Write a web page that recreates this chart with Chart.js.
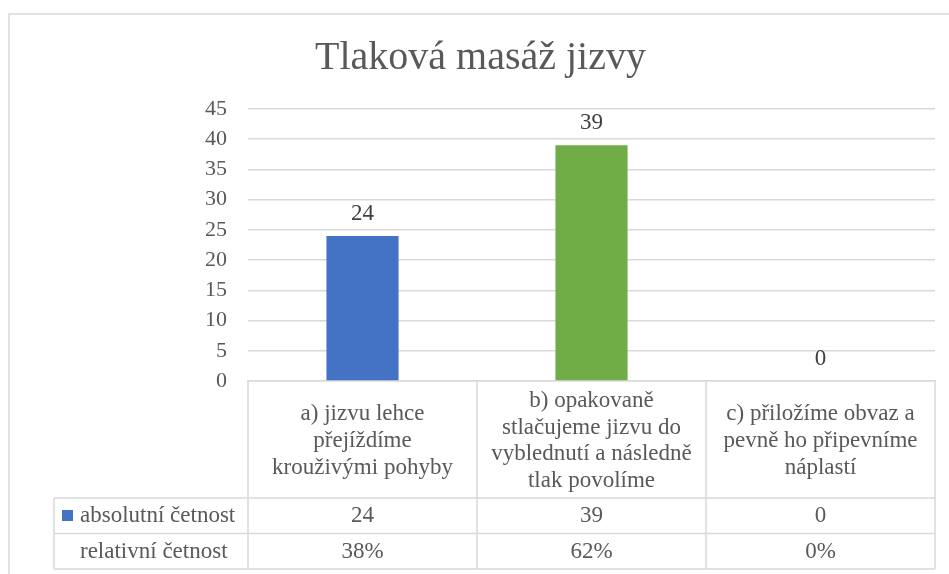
<!DOCTYPE html>
<html><head><meta charset="utf-8">
<script src="https://cdn.jsdelivr.net/npm/chart.js@4"></script>
<style>html,body{margin:0;padding:0;background:#fff;overflow:hidden}</style>
</head><body>
<canvas id="c" width="949" height="574"></canvas>
<script>
const chartTitle = "Tlaková masáž jizvy";
const categories = [
  ["a) jizvu lehce", "přejíždíme", "krouživými pohyby"],
  ["b) opakovaně", "stlačujeme jizvu do", "vyblednutí a následně", "tlak povolíme"],
  ["c) přiložíme obvaz a", "pevně ho připevníme", "náplastí"]
];
const seriesNames = ["absolutní četnost", "relativní četnost"];
const absoluteValues = [24, 39, 0];
const relativeValues = [38, 62, 0];
const barColors = ["#4472C4", "#70AD47", "#A5A5A5"];
const yMin = 0, yMax = 45, yStep = 5;

const FONT = '"Liberation Serif", serif';
const TEXT = '#595959';
const LINE = '#d9d9d9';

const frame = {
  id: 'frame',
  beforeDraw(chart) {
    const ctx = chart.ctx;
    ctx.save();
    ctx.fillStyle = '#fff';
    ctx.fillRect(0, 0, chart.width, chart.height);
    ctx.strokeStyle = LINE;
    ctx.lineWidth = 1.5;
    ctx.strokeRect(9, 14, chart.width + 20, chart.height + 20);
    ctx.restore();
  }
};

const valueLabels = {
  id: 'valueLabels',
  afterDatasetsDraw(chart) {
    const ctx = chart.ctx;
    const meta = chart.getDatasetMeta(0);
    ctx.save();
    ctx.font = '23px ' + FONT;
    ctx.fillStyle = '#404040';
    ctx.textAlign = 'center';
    ctx.textBaseline = 'alphabetic';
    meta.data.forEach((bar, i) => {
      ctx.fillText(String(absoluteValues[i]), bar.x, bar.y - 16);
    });
    ctx.restore();
  }
};

const dataTable = {
  id: 'dataTable',
  afterDraw(chart) {
    const ctx = chart.ctx;
    const xs = chart.scales.x;
    const n = categories.length;
    const left = xs.left, right = xs.right;
    const colW = (right - left) / n;
    const top = chart.chartArea.bottom;
    const headerH = 117;
    const rowH = 35.5;
    const legendLeft = 54;
    const r1 = top + headerH, r2 = r1 + rowH, r3 = r2 + rowH;

    ctx.save();
    ctx.strokeStyle = LINE;
    ctx.lineWidth = 1.5;
    ctx.beginPath();
    ctx.moveTo(legendLeft, r1); ctx.lineTo(right, r1);
    ctx.moveTo(legendLeft, r2); ctx.lineTo(right, r2);
    ctx.moveTo(legendLeft, r3); ctx.lineTo(right, r3);
    for (let i = 0; i <= n; i++) {
      const x = left + i * colW;
      ctx.moveTo(x, top); ctx.lineTo(x, r3);
    }
    ctx.moveTo(legendLeft, r1); ctx.lineTo(legendLeft, r3);
    ctx.stroke();

    ctx.font = '23px ' + FONT;
    ctx.fillStyle = TEXT;
    ctx.textAlign = 'center';
    ctx.textBaseline = 'alphabetic';
    const lh = 26.7;
    const mid = top + 66;
    categories.forEach((lines, i) => {
      const cx = xs.getPixelForValue(i);
      lines.forEach((t, k) => {
        ctx.fillText(t, cx, mid + (k - (lines.length - 1) / 2) * lh);
      });
      ctx.fillText(String(absoluteValues[i]), cx, r1 + 24);
      ctx.fillText(relativeValues[i] + '%', cx, r2 + 24);
    });

    ctx.textAlign = 'left';
    ctx.fillText(seriesNames[0], 80, r1 + 24);
    ctx.fillText(seriesNames[1], 80, r2 + 24);
    ctx.fillStyle = barColors[0];
    ctx.fillRect(62, r1 + 12, 11, 11);
    ctx.restore();
  }
};

new Chart(document.getElementById('c'), {
  type: 'bar',
  data: {
    labels: categories,
    datasets: [{
      label: seriesNames[0],
      data: absoluteValues,
      backgroundColor: barColors,
      borderWidth: 0,
      categoryPercentage: 1,
      barPercentage: 0.315
    }]
  },
  options: {
    responsive: false,
    animation: false,
    devicePixelRatio: 1,
    layout: { padding: { left: 26, right: 14, top: 34, bottom: 193 } },
    plugins: {
      legend: { display: false },
      tooltip: { enabled: false },
      title: {
        display: true,
        text: chartTitle,
        color: TEXT,
        font: { family: FONT, size: 40, weight: 'normal', lineHeight: 1.2 },
        padding: { top: 0, bottom: 27 }
      }
    },
    scales: {
      x: {
        grid: { display: false, drawTicks: false },
        border: { display: true, color: LINE, width: 1.5 },
        ticks: { display: false },
        afterFit(s) { s.height = 0; }
      },
      y: {
        min: yMin, max: yMax,
        ticks: { stepSize: yStep, padding: 21, color: TEXT, font: { family: FONT, size: 22 } },
        grid: { color: LINE, lineWidth: 1.5, drawTicks: false },
        border: { display: false },
        afterFit(s) { s.width = 222; }
      }
    }
  },
  plugins: [frame, valueLabels, dataTable]
});
</script>
</body></html>
